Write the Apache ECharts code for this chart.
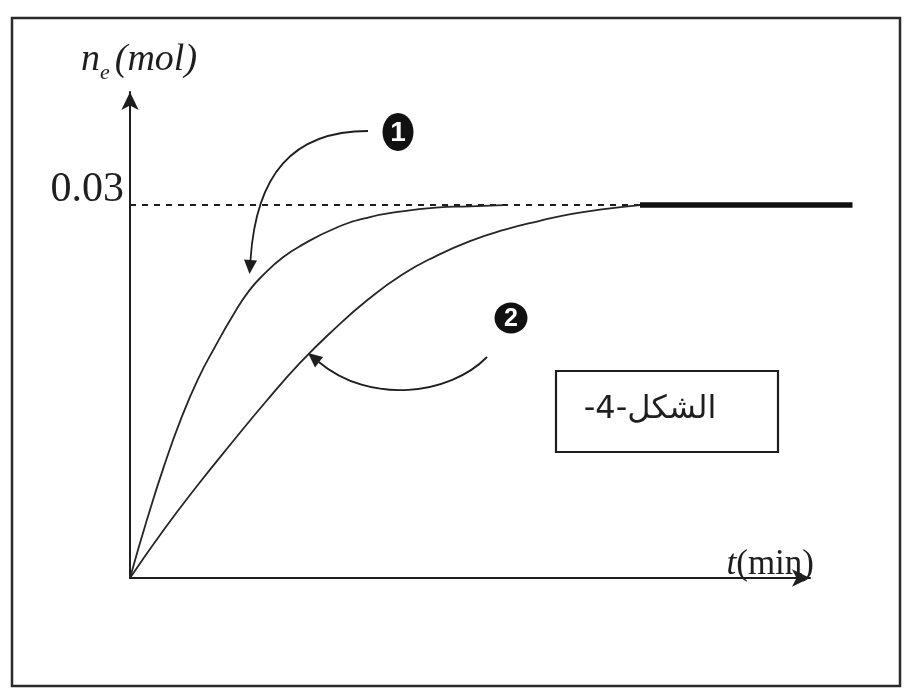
<!DOCTYPE html>
<html><head><meta charset="utf-8">
<script src="https://cdn.jsdelivr.net/npm/echarts@6/dist/echarts.min.js"></script>
<style>html,body{margin:0;padding:0;background:#fff}#chart{width:907px;height:698px}</style>
</head><body><div id="chart"></div>
<script>
// Curve 1 (faster reaction)
const tCurve1 = [0, 1, 2, 3, 4, 5, 6, 7, 8, 9, 10, 12, 14, 16, 18, 20, 22];
const nCurve1 = [0, 0.0047, 0.0090, 0.0128, 0.0160, 0.0186, 0.0210, 0.0231, 0.0246, 0.0258, 0.0267, 0.0281, 0.0290, 0.0295, 0.0298, 0.0299, 0.0300];
// Curve 2 (slower reaction)
const tCurve2 = [0, 2, 4, 6, 8, 10, 12, 14, 16, 18, 20, 22, 24, 26, 28, 30];
const nCurve2 = [0, 0.0039, 0.0075, 0.0109, 0.0142, 0.0173, 0.0200, 0.0224, 0.0244, 0.0259, 0.0271, 0.0280, 0.0287, 0.0293, 0.0297, 0.0300];
// Common final value
const nFinal = 0.03;
const tFinalStart = 30;
const tFinalEnd = 42.5;
// Axis ticks
const yTickValues = [0.03];
const yTickLabels = ['0.03'];
const tMax = 40;
const nMax = 0.0391;
const figureLabel = '\u202Bالشكل-4-\u202C';

const zip = (xs, ys) => xs.map((x, i) => [x, ys[i]]);
const ink = '#1e1e1e';
const serif = '"Liberation Serif","DejaVu Serif",serif';
const pxPerT = 680 / tMax;

const chart = echarts.init(document.getElementById('chart'), null, {renderer: 'canvas'});
chart.setOption({
  backgroundColor: '#ffffff',
  animation: false,
  grid: [
    {left: 130, right: 97, top: 92, bottom: 120, containLabel: false, outerBoundsMode: 'none'},
    {left: 130, right: 907 - 130 - tFinalEnd * pxPerT, top: 92, bottom: 120, containLabel: false, outerBoundsMode: 'none'}
  ],
  xAxis: [{
    type: 'value', min: 0, max: tMax, gridIndex: 0,
    axisLine: {show: true, onZero: false, symbol: ['none', 'arrow'], symbolSize: [13, 18],
      lineStyle: {color: ink, width: 2}},
    axisTick: {show: false}, axisLabel: {show: false}, splitLine: {show: false},
    name: '{t|t}{u|(min)}', nameLocation: 'end', nameGap: 4,
    nameTextStyle: {align: 'right', verticalAlign: 'bottom', padding: [0, 0, -4, 0],
      rich: {
        t: {fontFamily: serif, fontStyle: 'italic', fontSize: 35, color: ink},
        u: {fontFamily: serif, fontSize: 35, color: ink}
      }}
  }, {
    type: 'value', min: 0, max: tFinalEnd, gridIndex: 1, show: false
  }],
  yAxis: [{
    type: 'value', min: 0, max: nMax, interval: 0.03, gridIndex: 0,
    axisLine: {show: true, onZero: false, symbol: ['none', 'arrow'], symbolSize: [13, 18],
      lineStyle: {color: ink, width: 2}},
    axisTick: {show: false}, splitLine: {show: false},
    axisLabel: {show: true, margin: 6, fontFamily: serif, fontSize: 42, lineHeight: 30, color: ink,
      verticalAlign: 'bottom', showMaxLabel: false,
      formatter: v => { const i = yTickValues.findIndex(t => Math.abs(t - v) < 1e-9); return i >= 0 ? yTickLabels[i] : ''; }},
    name: '{n|n}{e|e}{u|(mol)}', nameLocation: 'end', nameGap: 8,
    nameTextStyle: {align: 'center', verticalAlign: 'bottom', padding: [0, 0, 0, 18],
      rich: {
        n: {fontFamily: serif, fontStyle: 'italic', fontSize: 38, color: ink, verticalAlign: 'bottom', padding: [0, 0, 5, 0]},
        e: {fontFamily: serif, fontStyle: 'italic', fontSize: 22, color: ink, verticalAlign: 'bottom'},
        u: {fontFamily: serif, fontStyle: 'italic', fontSize: 38, color: ink, verticalAlign: 'bottom', padding: [0, 0, 5, 5]}
      }}
  }, {
    type: 'value', min: 0, max: nMax, gridIndex: 1, show: false
  }],
  series: [
    {type: 'line', name: 'asymptote', data: [[0, nFinal], [tFinalStart, nFinal]], symbol: 'none',
      lineStyle: {color: ink, width: 2, type: [6, 6]}, z: 1},
    {type: 'line', name: '1', data: zip(tCurve1, nCurve1), symbol: 'none', smooth: true,
      lineStyle: {color: '#262626', width: 1.8}, z: 2},
    {type: 'line', name: '2', data: zip(tCurve2, nCurve2), symbol: 'none', smooth: true,
      lineStyle: {color: '#262626', width: 1.8}, z: 2},
    {type: 'line', name: 'final', xAxisIndex: 1, yAxisIndex: 1, data: [[tFinalStart, nFinal], [tFinalEnd, nFinal]], symbol: 'none',
      lineStyle: {color: '#111', width: 5.5}, z: 3}
  ],
  graphic: [
    {type: 'rect', shape: {x: 12, y: 18, width: 888, height: 668}, style: {fill: 'none', stroke: '#2a2a2a', lineWidth: 2.5}, silent: true},
    // arrow to curve 1
    {type: 'bezierCurve', shape: {x1: 368, y1: 131, cpx1: 292, cpy1: 131, cpx2: 256, cpy2: 175, x2: 250.5, y2: 260},
      style: {fill: 'none', stroke: ink, lineWidth: 1.8}},
    {type: 'polygon', shape: {points: [[249.5, 274], [244, 259.6], [257, 260.4]]}, style: {fill: ink}},
    // arrow to curve 2
    {type: 'bezierCurve', shape: {x1: 487, y1: 357, cpx1: 450, cpy1: 395, cpx2: 370, cpy2: 405, x2: 318.8, y2: 362},
      style: {fill: 'none', stroke: ink, lineWidth: 1.8}},
    {type: 'polygon', shape: {points: [[308, 353], [323, 357], [315, 367.5]]}, style: {fill: ink}},
    // numbered markers
    {type: 'ellipse', shape: {cx: 398, cy: 132, rx: 15.5, ry: 19}, style: {fill: '#111'}},
    {type: 'text', x: 398, y: 133, style: {text: '1', fill: '#fff', font: 'bold 28px "Liberation Sans", sans-serif', align: 'center', verticalAlign: 'middle'}},
    {type: 'ellipse', shape: {cx: 511, cy: 318, rx: 16.5, ry: 15.5}, style: {fill: '#111'}},
    {type: 'text', x: 511, y: 319, style: {text: '2', fill: '#fff', font: 'bold 25px "Liberation Sans", sans-serif', align: 'center', verticalAlign: 'middle'}},
    // figure caption box
    {type: 'rect', shape: {x: 556, y: 371, width: 222, height: 81}, style: {fill: '#fff', stroke: ink, lineWidth: 2.2}},
    {type: 'text', x: 650, y: 410, style: {text: figureLabel, fill: ink, font: '32px "DejaVu Sans", sans-serif', align: 'center', verticalAlign: 'middle'}}
  ]
});
</script></body></html>
